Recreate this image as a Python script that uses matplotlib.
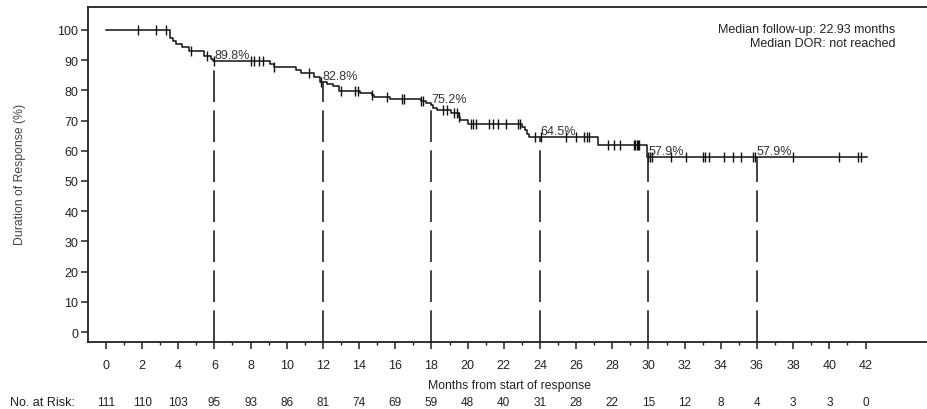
import numpy as np
import matplotlib
matplotlib.use("Agg")
import matplotlib.pyplot as plt
from matplotlib import transforms

plt.rcParams["font.family"] = ["Liberation Sans", "DejaVu Sans"]

# Kaplan-Meier steps (months, DOR % after the event)
event_times = [3.55, 3.7, 3.9, 4.2, 4.6, 5.45, 5.8, 5.95,
               9.1, 9.3, 10.5, 10.8, 11.5, 11.85,
               12.2, 12.55, 12.9, 14.05, 14.7, 14.85, 15.7, 17.4, 17.7, 17.95,
               18.1, 18.3, 19.1, 19.5, 19.6, 20.0, 23.0, 23.15, 23.3, 23.4,
               27.2, 29.9]
event_surv = [97.3, 96.2, 95.4, 94.3, 92.9, 91.3, 90.4, 89.8,
              88.8, 87.6, 86.8, 85.8, 84.5, 82.8,
              82.1, 81.4, 79.9, 79.1, 78.4, 77.8, 77.2, 76.5, 75.8, 75.2,
              74.3, 73.4, 72.4, 71.3, 70.2, 68.8, 67.8, 66.8, 65.6, 64.5,
              62.0, 57.9]
censor_times = [1.8, 2.75, 3.35, 4.73, 5.6, 5.97,
                8.05, 8.2, 8.45, 8.7, 9.3, 11.25, 11.9,
                13.0, 13.8, 13.95, 14.7, 15.55, 16.35, 16.5, 17.45, 17.55,
                18.65, 18.85, 19.25, 19.4, 19.55, 20.2, 20.3, 20.45, 21.2, 21.4,
                21.7, 22.1, 22.8, 22.9, 23.7, 24.05, 25.45, 26.0, 26.45, 26.6,
                26.7, 27.75, 28.1, 28.4, 29.22, 29.28, 29.34, 29.4, 29.46,
                30.0, 30.1, 30.2, 31.25, 32.1, 33.0, 33.15, 33.33, 34.2, 34.66,
                35.1, 35.8, 35.9, 37.97, 40.55, 41.6, 41.75]
end_time = 42.1

landmark_months = [6, 12, 18, 24, 30, 36]
landmark_surv = [89.8, 82.8, 75.2, 64.5, 57.9, 57.9]

risk_months = list(range(0, 43, 2))
at_risk = [111, 110, 103, 95, 93, 86, 81, 74, 69, 59, 48, 40, 31, 28, 22,
           15, 12, 8, 4, 3, 3, 0]


def surv_at(t):
    idx = np.searchsorted(event_times, t, side="right")
    return 100.0 if idx == 0 else event_surv[idx - 1]


fig = plt.figure(figsize=(9.27, 4.10), dpi=100)
ax = fig.add_axes([0.0949, 0.1634, 0.9051, 0.8171])
ax.set_xlim(-0.99, 45.4)
ax.set_ylim(-3.3, 107.6)

line_col = "#111111"
xs = [0] + event_times + [end_time]
ys = [100] + event_surv + [event_surv[-1]]
ax.step(xs, ys, where="post", color=line_col, lw=1.1)
ax.plot(censor_times, [surv_at(t) for t in censor_times], ls="none",
        marker="|", ms=7, mew=1.0, color=line_col)

ax.vlines(landmark_months, -3.3, landmark_surv, colors="#222222", lw=1.2,
          linestyles=[(0, (19, 5))])
for m, s in zip(landmark_months, landmark_surv):
    ax.text(m, s + 1.0, f"{s}%", ha="left", va="baseline", fontsize=9,
            color="#333333")

ax.text(0.962, 0.952, "Median follow-up: 22.93 months\nMedian DOR: not reached",
        transform=ax.transAxes, ha="right", va="top", fontsize=9,
        color="#222222", multialignment="right", linespacing=1.2)

for side in ["right", "bottom"]:
    ax.spines[side].set_visible(False)
for side in ["top", "left"]:
    ax.spines[side].set_color("#222222")
    ax.spines[side].set_linewidth(1.3)
ax.axhline(-3.3, color="#222222", lw=1.3, clip_on=False)

ax.set_yticks(range(0, 101, 10))
ax.set_xticks(risk_months)
ax.set_xticks(range(1, 42, 2), minor=True)
ax.tick_params(axis="y", length=5, width=1.1, pad=2, labelsize=9,
               color="#222222", labelcolor="#222222")
ax.tick_params(axis="x", which="major", length=5, width=1.1, pad=7,
               labelsize=9, color="#222222", labelcolor="#222222")
ax.tick_params(axis="x", which="minor", length=2.5, width=1.0, color="#222222")

fig.text(0.55, 0.0585, "Months from start of response", ha="center",
         va="center", fontsize=8.8, color="#222222")
fig.text(0.0216, 0.574, "Duration of Response (%)", rotation=90, ha="center",
         va="center", fontsize=8.8, color="#444444")

trans = transforms.blended_transform_factory(ax.transData, fig.transFigure)
fig.text(0.011, 0.017, "No. at Risk:", ha="left", va="center", fontsize=9,
         color="#222222")
for m, n in zip(risk_months, at_risk):
    ax.text(m, 0.017, str(n), transform=trans, ha="center", va="center",
            fontsize=8.5, color="#222222", clip_on=False)

fig.savefig("out.png", dpi=100)
